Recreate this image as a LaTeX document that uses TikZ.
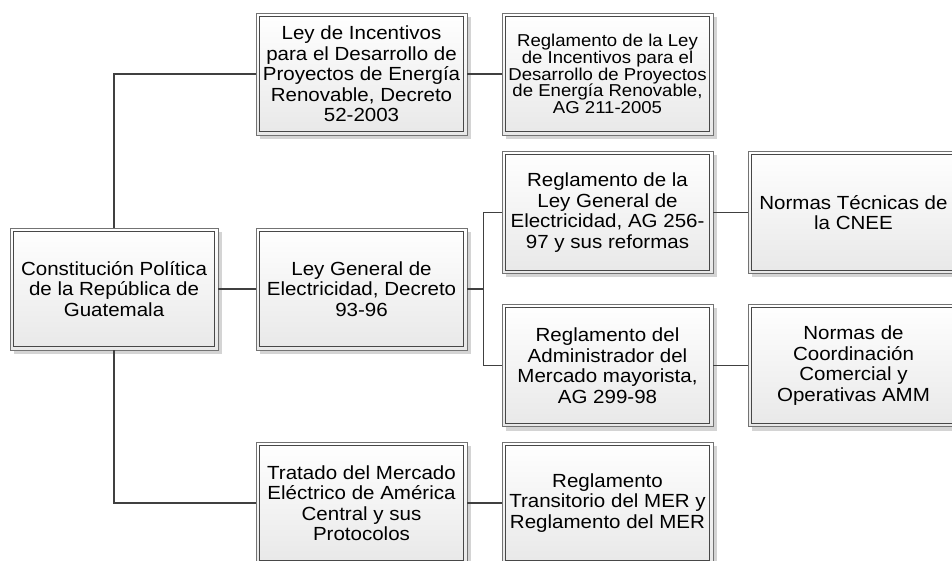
\documentclass[tikz,border=0pt]{standalone}
\usepackage{fontspec}
\setmainfont{Liberation Sans}[FakeStretch=1.08]
\usepackage{tikz}
\usetikzlibrary{shadows}
\usetikzlibrary{calc,positioning}

\begin{document}
\begin{tikzpicture}[x=1pt, y=1pt,
    box/.style={draw=black!55, line width=0.8pt, top color=white, bottom color=black!9,
        minimum width=211pt, minimum height=122pt, inner sep=0pt, align=center,
        font=\fontsize{19}{20.5}\selectfont,
        drop shadow={shadow xshift=4pt, shadow yshift=-4pt, fill=black!17, opacity=1},
        path picture={\draw[black!72, line width=1pt]
            ($(path picture bounding box.north west)+(3.2,-3.2)$) rectangle
            ($(path picture bounding box.south east)+(-3.2,3.2)$);}},
    small/.style={font=\fontsize{17.2}{16.8}\selectfont},
    link/.style={draw=black!75, line width=1.8pt}]

    \useasboundingbox (0,0) rectangle (952,560);

    \node[box, minimum width=208pt] (const) at (114,271) {Constitución Política\\de la República de\\Guatemala};

    \node[box] (incent) at (361.5,486) {Ley de Incentivos\\para el Desarrollo de\\Proyectos de Energía\\Renovable, Decreto\\52-2003};
    \node[box] (lge) at (361.5,271) {Ley General de\\Electricidad, Decreto\\93-96};
    \node[box] (tratado) at (361.5,57) {Tratado del Mercado\\Eléctrico de América\\Central y sus\\Protocolos};

    \node[box, small] (regincent) at (607.5,486) {Reglamento de la Ley\\de Incentivos para el\\Desarrollo de Proyectos\\de Energía Renovable,\\AG 211-2005};
    \node[box] (reglge) at (607.5,347.5) {Reglamento de la\\Ley General de\\Electricidad, AG 256-\\97 y sus reformas};
    \node[box] (regamm) at (607.5,194.5) {Reglamento del\\Administrador del\\Mercado mayorista,\\AG 299-98};
    \node[box] (regmer) at (607.5,57) {Reglamento\\Transitorio del MER y\\Reglamento del MER};

    \node[box] (normtec) at (853.5,347.5) {Normas Técnicas de\\la CNEE};
    \node[box] (normcoord) at (853.5,194.5) {Normas de\\Coordinación\\Comercial y\\Operativas AMM};

    \draw[link] (const.north) |- (incent.west);
    \draw[link] (const.south) |- (tratado.west);
    \draw[link] (const.east) -- (lge.west);
    \draw[link] (incent.east) -- (regincent.west);
    \draw[link] (lge.east) -- ++(16,0) coordinate (fork);
    \draw[link] (fork) |- (reglge.west);
    \draw[link] (fork) |- (regamm.west);
    \draw[link] (reglge.east) -- (normtec.west);
    \draw[link] (regamm.east) -- (normcoord.west);
    \draw[link] (tratado.east) -- (regmer.west);

\end{tikzpicture}
\end{document}
